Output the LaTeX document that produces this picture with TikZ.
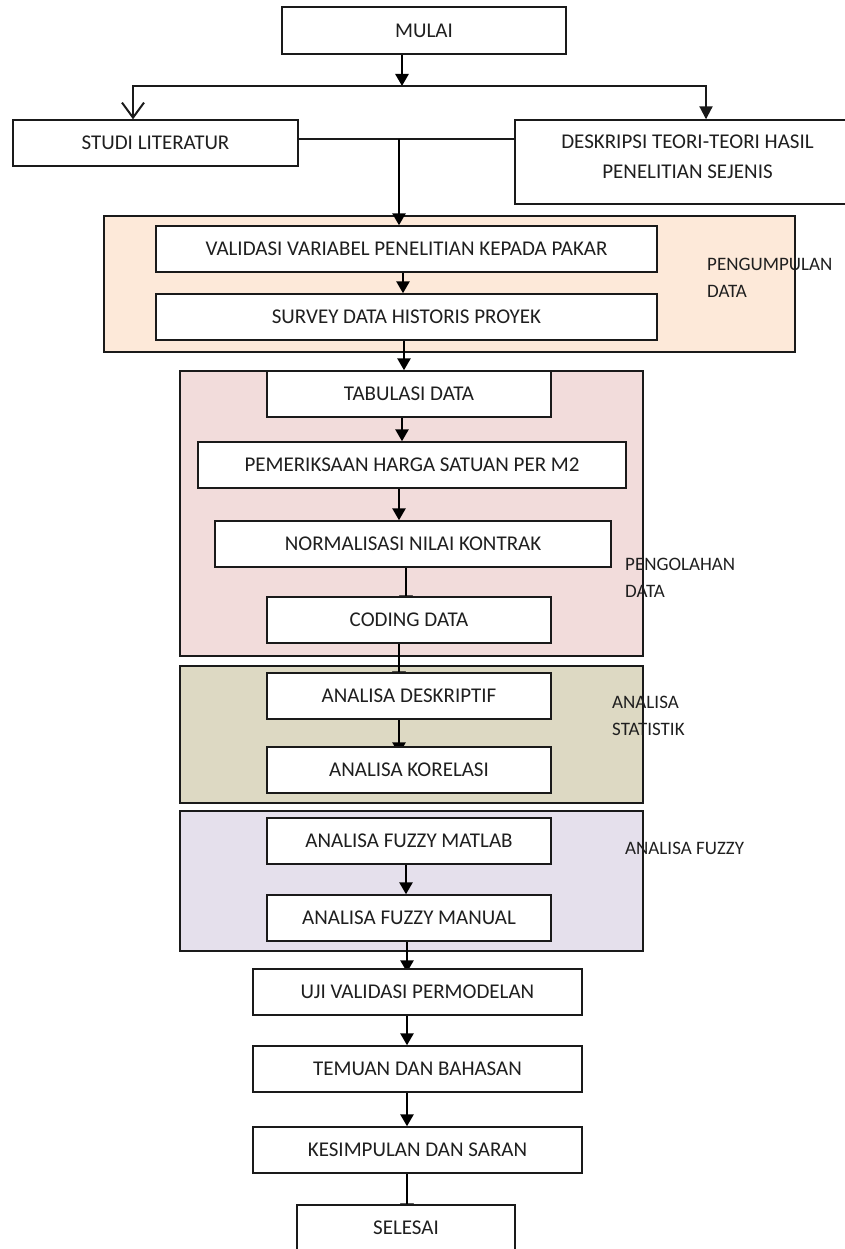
\documentclass[tikz,border=0pt]{standalone}
\usepackage{fontspec}
\setmainfont{Carlito}
\usetikzlibrary{arrows.meta,calc}
\pgfdeclarelayer{bg}
\pgfdeclarelayer{conn}
\pgfsetlayers{bg,conn,main}

\definecolor{peach}{HTML}{FDE9D9}
\definecolor{rosy}{HTML}{F2DCDB}
\definecolor{tan}{HTML}{DDD9C3}
\definecolor{lav}{HTML}{E5E0EC}
\definecolor{edge}{HTML}{1A1A1A}
\definecolor{ink}{HTML}{1F1F1F}

\begin{document}
\begin{tikzpicture}[x=1pt,y=-1pt,
  box/.style={rectangle, draw=edge, line width=1.4pt, fill=white, inner sep=0pt,
    minimum height=46pt, text=ink, font=\fontsize{21}{30}\selectfont},
  group/.style={rectangle, draw=edge, line width=1.2pt, inner sep=0pt},
  lbl/.style={anchor=north west, inner sep=0pt, align=left, text=ink,
    font=\fontsize{19}{27}\selectfont},
  arr/.style={draw=black, line width=2.6pt, -{Triangle[length=12pt,width=13pt]}},
  link/.style={draw=edge, line width=1.5pt},
]
\useasboundingbox (0,0) rectangle (845,1249);

% stage frames
\begin{pgfonlayer}{bg}
\node[group, fill=peach, minimum width=691pt, minimum height=136pt] (gkumpul) at (449.5,284) {};
\node[group, fill=rosy, minimum width=463pt, minimum height=285pt] (golah) at (411.5,513.5) {};
\node[group, fill=tan, minimum width=463pt, minimum height=137pt] (gstat) at (411.5,734.5) {};
\node[group, fill=lav, minimum width=463pt, minimum height=140pt] (gfuzzy) at (411.5,881) {};
\end{pgfonlayer}

% stage labels
\node[lbl] (lkumpul) at (707,258) {PENGUMPULAN\\DATA};
\node[lbl] (lolah) at (625,558) {PENGOLAHAN\\DATA};
\node[lbl] (lstat) at (612,696) {ANALISA\\STATISTIK};
\node[lbl] (lfuzzy) at (625,842) {ANALISA FUZZY};

% process steps
\node[box, minimum width=284pt, minimum height=47pt] (mulai) at (424,30.5) {MULAI};
\node[box, minimum width=285pt] (studi) at (155.5,143) {STUDI LITERATUR};
\node[box, minimum width=345pt, minimum height=84pt, align=center, text depth=10pt] (desk) at (687.5,162) {DESKRIPSI TEORI-TEORI HASIL\\PENELITIAN SEJENIS};
\node[box, minimum width=501pt] (valid) at (406.5,249) {VALIDASI VARIABEL PENELITIAN KEPADA PAKAR};
\node[box, minimum width=501pt] (survey) at (406.5,317) {SURVEY DATA HISTORIS PROYEK};
\node[box, minimum width=284pt] (tabul) at (409,394) {TABULASI DATA};
\node[box, minimum width=428pt] (periksa) at (412,465) {PEMERIKSAAN HARGA SATUAN PER M2};
\node[box, minimum width=396pt] (normal) at (413,544) {NORMALISASI NILAI KONTRAK};
\node[box, minimum width=284pt] (coding) at (409,620) {CODING DATA};
\node[box, minimum width=284pt] (deskrip) at (409,696) {ANALISA DESKRIPTIF};
\node[box, minimum width=284pt] (korel) at (409,770) {ANALISA KORELASI};
\node[box, minimum width=284pt] (matlab) at (409,841) {ANALISA FUZZY MATLAB};
\node[box, minimum width=284pt] (manual) at (409,918) {ANALISA FUZZY MANUAL};
\node[box, minimum width=329pt] (uji) at (417.5,992) {UJI VALIDASI PERMODELAN};
\node[box, minimum width=329pt] (temuan) at (417.5,1069) {TEMUAN DAN BAHASAN};
\node[box, minimum width=329pt] (simpul) at (417.5,1150) {KESIMPULAN DAN SARAN};
\node[box, minimum width=218pt] (selesai) at (406,1228) {SELESAI};

% connector columns
\coordinate (split) at (402,86);
\coordinate (join) at (399,139);
\coordinate (xl) at (133,0);
\coordinate (xr) at (706,0);
\coordinate (k399) at (399,0);
\coordinate (k402) at (402,0);
\coordinate (k403) at (403,0);
\coordinate (k404) at (404,0);
\coordinate (k406) at (406,0);
\coordinate (k407) at (407,0);

\begin{pgfonlayer}{conn}
\draw[arr] (mulai.south -| split) -- (split);
\draw[link, line width=2pt, -{Straight Barb[length=15pt,width=22pt]}] (split) -| (studi.north -| xl);
\draw[link, line width=2pt, -{Triangle[length=13pt,width=13pt]}] (split) -| (desk.north -| xr);
\draw[link] (studi.east |- join) -- (desk.west |- join);
\draw[arr] (join) -- (valid.north -| join);
\draw[arr] (valid.south -| k403) -- (survey.north -| k403);
\draw[arr] (survey.south -| k404) -- (tabul.north -| k404);
\draw[arr] (tabul.south -| k402) -- (periksa.north -| k402);
\draw[arr] (periksa.south -| k399) -- (normal.north -| k399);
\draw[arr] (normal.south -| k406) -- ($(coding.north -| k406)+(0,11)$);
\draw[arr] (coding.south -| k399) -- ($(deskrip.north -| k399)+(0,11)$);
\draw[arr] (deskrip.south -| k399) -- ($(korel.north -| k399)+(0,8)$);
\draw[arr] (matlab.south -| k406) -- (manual.north -| k406);
\draw[arr] (manual.south -| k407) -- ($(uji.north -| k407)+(0,4)$);
\draw[arr] (uji.south -| k407) -- (temuan.north -| k407);
\draw[arr] (temuan.south -| k407) -- (simpul.north -| k407);
\draw[arr] (simpul.south -| k407) -- ($(selesai.north -| k407)+(0,11)$);
\end{pgfonlayer}
\end{tikzpicture}
\end{document}
